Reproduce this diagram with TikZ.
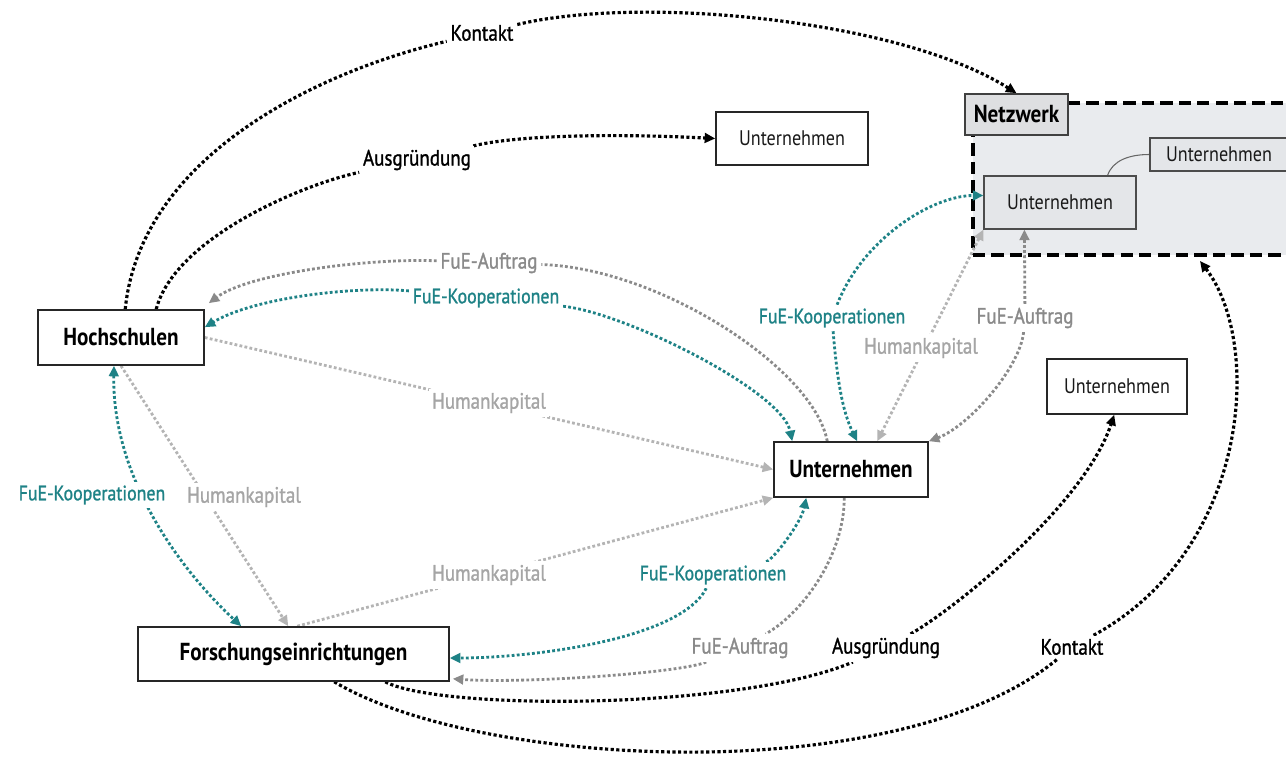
\documentclass[tikz,border=0pt]{standalone}
\usepackage{fontspec}
\setmainfont{PT Sans}[FakeStretch=0.86]
\newfontfamily\lblfam{PT Sans}[FakeStretch=0.86, FakeBold=1.2]
\usetikzlibrary{arrows.meta,calc}
\definecolor{tealc}{RGB}{30,130,134}
\definecolor{grayA}{RGB}{138,138,138}
\definecolor{grayH}{RGB}{180,180,180}
\definecolor{grayHt}{RGB}{165,165,165}
\definecolor{netfill}{RGB}{233,235,238}
\definecolor{boxfill}{RGB}{228,230,233}
\definecolor{nwfill}{RGB}{222,223,225}
\pgfdeclarelayer{netlayer}
\pgfdeclarelayer{lines}
\pgfsetlayers{netlayer,lines,main}
\tikzset{
  box/.style={draw=black!85, line width=0.9pt, fill=white, inner sep=0pt, font=\fontsize{12}{14}\selectfont, text=black!90},
  bbox/.style={box, font=\fontsize{14}{16}\selectfont\bfseries, text=black},
  gbox/.style={box, fill=boxfill, draw=black!70, line width=0.7pt},
  lbl/.style={fill=white, inner sep=2pt, font=\lblfam\fontsize{12.6}{14}\selectfont},
  lblk/.style={lbl, text=black},
  lblt/.style={lbl, text=tealc, font=\lblfam\fontsize{11.8}{14}\selectfont},
  lbla/.style={lbl, text=grayA},
  lblh/.style={lbl, text=grayHt},
  dotk/.style={line width=1.8pt, dash pattern=on 1.8pt off 1.4pt, black},
  dott/.style={line width=1.6pt, dash pattern=on 1.6pt off 1.3pt, tealc},
  dota/.style={line width=1.6pt, dash pattern=on 1.6pt off 1.3pt, grayA},
  doth/.style={line width=1.6pt, dash pattern=on 1.6pt off 1.3pt, grayH},
  arr/.style={-{Triangle[length=6pt,width=5.5pt]}},
  arrs/.style={{Triangle[length=6pt,width=5.5pt]}-{Triangle[length=6pt,width=5.5pt]}},
}
\begin{document}
\begin{tikzpicture}[x=0.02cm,y=-0.02cm]
\useasboundingbox (0,0) rectangle (1286,760);

% network area
\begin{pgfonlayer}{netlayer}
\node[draw=black, fill=netfill, line width=2.3pt, dash pattern=on 7pt off 3.5pt,
      minimum width=6.38cm, minimum height=3.04cm, inner sep=0pt] (net) at (1132.5,179) {};
\end{pgfonlayer}

% boxes
\node[bbox, minimum width=3.32cm, minimum height=1.1cm] (hs) at (121,337.5) {Hochschulen};
\node[bbox, minimum width=6.22cm, minimum height=1.08cm] (fe) at (293.5,654) {Forschungseinrichtungen};
\node[bbox, minimum width=3.08cm, minimum height=1.1cm] (uc) at (851,469.5) {Unternehmen};
\node[box, minimum width=2.8cm, minimum height=1.1cm] (ur) at (1117,386.5) {Unternehmen};
\node[box, minimum width=3.04cm, minimum height=1.06cm] (uo) at (792,138.5) {Unternehmen};
\node[bbox, fill=nwfill, draw=black!75, minimum width=2.06cm, minimum height=0.82cm] (nw) at (1016.5,114.5) {Netzwerk};
\node[gbox, minimum width=3.04cm, minimum height=1.06cm] (n1) at (1060,202.5) {Unternehmen};
\node[gbox, minimum width=2.76cm, minimum height=0.66cm] (n2) at (1219,154.5) {Unternehmen};

% labels
\node[lblk] (lkt1) at (482,33) {Kontakt};
\node[lblk] (lag1) at (417,160) {Ausgründung};
\node[lbla] (lfa1) at (489,263) {FuE-Auftrag};
\node[lblt] (lko1) at (486,298) {FuE-Kooperationen};
\node[lblh] (lhk1) at (489,403) {Humankapital};
\node[lblh] (lhk2) at (489,575) {Humankapital};
\node[lblh] (lhk3) at (244,497) {Humankapital};
\node[lblt] (lko2) at (92,495) {FuE-Kooperationen};
\node[lblt] (lko3) at (713,575) {FuE-Kooperationen};
\node[lbla] (lfa2) at (740,648) {FuE-Auftrag};
\node[lblk] (lag2) at (886,648) {Ausgründung};
\node[lblk] (lkt2) at (1072,647) {Kontakt};
\node[lblt] (lko4) at (832,318) {FuE-Kooperationen};
\node[lblh] (lhk4) at (921,348) {Humankapital};
\node[lbla] (lfa3) at (1025,318) {FuE-Auftrag};

\begin{pgfonlayer}{lines}
% Kontakt (top)
\draw[dotk] ($(hs.north west)+(88,0)$) .. controls +(15,-150) and +(-170,40) .. (lkt1);
\draw[dotk, arr] (lkt1) .. controls +(158,-38) and +(-117,-74) .. (nw.north);
% Ausgruendung (top)
\draw[dotk] ($(hs.north west)+(119,0)$) .. controls +(18,-70) and +(-117,25) .. (lag1);
\draw[dotk, arr] (lag1) .. controls +(100,-25) and +(-100,-5) .. (uo.west);
% FuE-Auftrag (top)
\draw[dota] ($(uc.north west)+(54,0)$) .. controls +(-13,-72) and +(171,5) .. (lfa1);
\draw[dota, arr] (lfa1) .. controls +(-120,-5) and +(40,-30) .. ($(hs.north east)+(4,-6)$);
% FuE-Kooperationen (top)
\draw[dott, arr] (lko1) .. controls +(-130,-12) and +(50,-30) .. ($(hs.north east)+(0,18)$);
\draw[dott, arr] (lko1) .. controls +(140,15) and +(-10,-50) .. ($(uc.north west)+(19,0)$);
% Humankapital
\draw[doth, arr] (hs.east) -- (uc.west);
\draw[doth, arr] ($(fe.north west)+(160,0)$) -- (uc.south west);
\draw[doth, arr] (hs.south) -- ($(fe.north west)+(151,0)$);
% FuE-Kooperationen Hochschulen - Forschung
\draw[dott, arrs] ($(hs.south)+(-7,0)$) .. controls +(-2,102) and +(-72,-67) .. ($(fe.north west)+(104,0)$);
% FuE-Kooperationen Forschung - Unternehmen
\draw[dott, arr] (lko3) .. controls +(-33,65) and +(80,0) .. ($(fe.east)+(0,4)$);
\draw[dott, arr] (lko3) .. controls +(60,-15) and +(-5,25) .. ($(uc.south west)+(33,0)$);
% FuE-Auftrag (bottom)
\draw[dota] ($(uc.south west)+(71,0)$) .. controls +(0,60) and +(60,-33) .. (lfa2);
\draw[dota, arr] (lfa2) .. controls +(-60,25) and +(70,5) .. ($(fe.south east)+(3,-3)$);
% Ausgruendung (bottom)
\draw[dotk] ($(fe.south west)+(248,0)$) .. controls +(54,29) and +(-146,62) .. (lag2);
\draw[dotk, arr] (lag2) .. controls +(70,-40) and +(-30,90) .. ($(ur.south west)+(68,0)$);
% Kontakt (bottom)
\draw[dotk] ($(fe.south west)+(197,0)$) .. controls +(145,87) and +(-172,143) .. (lkt2);
\draw[dotk, arr] (lkt2) .. controls +(178,-97) and +(63,82) .. ($(net.south west)+(229,4)$);
% network relations
\draw[dott, arr] (lko4) .. controls +(30,-78) and +(-52,0) .. ($(n1.west)+(0,-7)$);
\draw[dott, arr] (lko4) .. controls +(5,60) and +(-15,-30) .. ($(uc.north west)+(84,0)$);
\draw[doth, arrs] ($(uc.north west)+(104,0)$) -- (n1.south west);
\draw[dota, arr] (lfa3) -- ($(n1.south west)+(41,0)$);
\draw[dota, arr] (lfa3) .. controls +(-5,50) and +(40,-15) .. (uc.north east);
\draw[line width=0.6pt, black!60] ($(n1.north east)+(-29,0)$) .. controls +(5,-15) and +(-20,0) .. (n2.west);
\end{pgfonlayer}
\end{tikzpicture}
\end{document}
